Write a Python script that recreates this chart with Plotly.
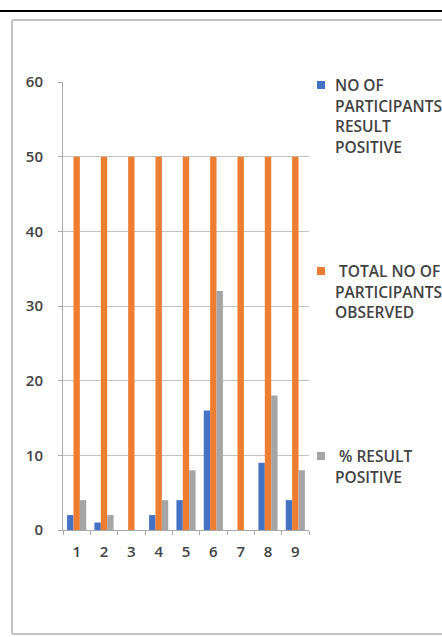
import plotly.graph_objects as go

categories = ["1", "2", "3", "4", "5", "6", "7", "8", "9"]
positive = [2, 1, 0, 2, 4, 16, 0, 9, 4]
total = [50, 50, 50, 50, 50, 50, 50, 50, 50]
pct_positive = [4, 2, 0, 4, 8, 32, 0, 18, 8]
y_ticks = [0, 10, 20, 30, 40, 50, 60]

series_names = ["NO OF PARTICIPANTS RESULT POSITIVE",
                "TOTAL NO OF PARTICIPANTS OBSERVED",
                "% RESULT POSITIVE"]
legend_lines = [["NO OF", "PARTICIPANTS", "RESULT", "POSITIVE"],
                [" TOTAL NO OF", "PARTICIPANTS", "OBSERVED"],
                [" % RESULT", "POSITIVE"]]
colors = ["#4472C4", "#ED7D31", "#A5A5A5"]

W, H = 442, 637
L, R, T, B = 63, 309, 82, 530
FONT = "Open Sans"
TXT = "#424242"


def px(x):
    return (x - L) / (R - L)


def py(y):
    return (B - y) / (B - T)


fig = go.Figure()
for name, vals, c in zip(series_names, [positive, total, pct_positive], colors):
    fig.add_trace(go.Bar(x=categories, y=vals, name=name, marker_color=c,
                         marker_line_width=0, showlegend=False))

shapes = []
frame = dict(color="#c4c4c4", width=2)
# outer frame (left, top, bottom edges; right edge lies off the page) and top rule
shapes.append(dict(type="line", xref="paper", yref="paper",
                   x0=px(12), x1=px(12), y0=py(634), y1=py(20), line=frame))
shapes.append(dict(type="line", xref="paper", yref="paper",
                   x0=px(12), x1=px(442), y0=py(20), y1=py(20), line=frame))
shapes.append(dict(type="line", xref="paper", yref="paper",
                   x0=px(12), x1=px(442), y0=py(634), y1=py(634), line=frame))
shapes.append(dict(type="line", xref="paper", yref="paper",
                   x0=px(0), x1=px(442), y0=py(11), y1=py(11),
                   line=dict(color="#000000", width=2)))

annotations = []
legend_first_y = [85, 271, 456]
line_gap = 20.7
for i, lines in enumerate(legend_lines):
    y0 = legend_first_y[i]
    shapes.append(dict(type="rect", xref="paper", yref="paper",
                       x0=px(317), x1=px(325), y0=py(y0 + 4), y1=py(y0 - 4),
                       fillcolor=colors[i], line=dict(width=0)))
    for j, txt in enumerate(lines):
        annotations.append(dict(text=txt, xref="paper", yref="paper",
                                x=px(333), y=py(y0 + j * line_gap),
                                xanchor="left", yanchor="middle", showarrow=False,
                                font=dict(family=FONT, size=15.5, color=TXT,
                                          weight=600)))

fig.update_layout(
    width=W, height=H,
    margin=dict(l=L, r=W - R, t=T, b=H - B, autoexpand=False),
    paper_bgcolor="white", plot_bgcolor="white",
    barmode="group", bargap=0.3, bargroupgap=0,
    showlegend=False,
    shapes=shapes, annotations=annotations,
    font=dict(family=FONT, size=15, color=TXT),
)
tickfont = dict(family=FONT, size=15, color=TXT, weight=600)
fig.update_yaxes(range=[0, 60], tickvals=y_ticks, showgrid=True,
                 gridcolor="#c2c2c2", gridwidth=1, showline=True,
                 linecolor="#a8a8a8", linewidth=1, ticks="outside",
                 ticklen=4, tickcolor="#a8a8a8", ticklabelstandoff=12,
                 zeroline=False, tickfont=tickfont)
fig.update_xaxes(showline=True, linecolor="#a8a8a8", linewidth=1,
                 ticks="outside", tickson="boundaries", ticklen=4,
                 tickcolor="#a8a8a8", ticklabelstandoff=8, tickfont=tickfont)

fig.write_html("out.html", config={"displayModeBar": False},
               post_script="document.body.style.margin='0px';document.body.style.overflow='hidden';")
